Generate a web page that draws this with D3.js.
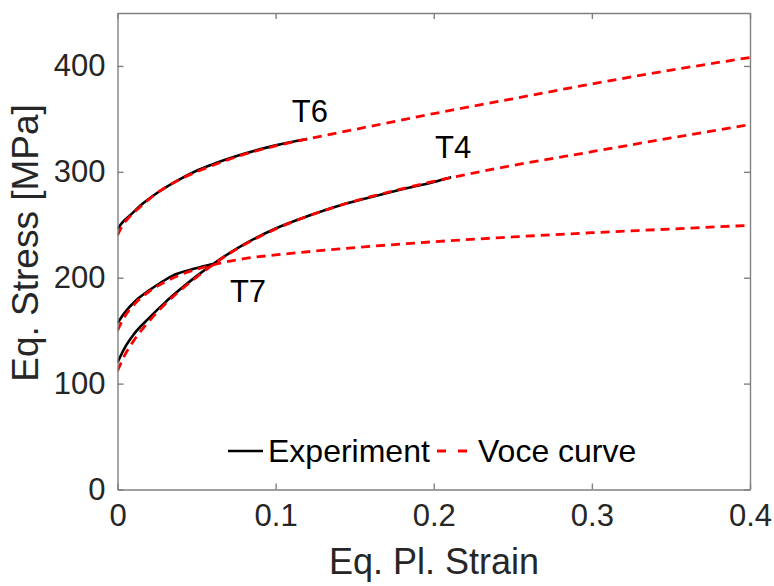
<!DOCTYPE html>
<html>
<head>
<meta charset="utf-8">
<script src="https://cdn.jsdelivr.net/npm/d3@7"></script>
<style>
    body { margin: 0; background: #fff; }
    svg text { font-family: 'Liberation Sans', Arial, Helvetica, sans-serif; }
</style>
</head>
<body>
<svg id="chart" width="774" height="586"></svg>
<script>
// values (strain [-], stress [MPa])
const t6ExpStrain = [0, 0.003, 0.008, 0.016, 0.025, 0.037, 0.05, 0.06, 0.08, 0.1, 0.12];
const t6ExpStress = [246, 252, 259, 270, 280, 291, 301, 307, 317, 325, 331];
const t6VoceStrain = [0, 0.003, 0.008, 0.016, 0.025, 0.037, 0.05, 0.06, 0.08, 0.1, 0.12, 0.15, 0.2, 0.25, 0.3, 0.35, 0.4];
const t6VoceStress = [240, 249, 258, 269, 280, 291, 300, 306, 316.5, 324.5, 331, 340, 355, 369, 383, 396, 408];

const t4ExpStrain = [0, 0.005, 0.01, 0.02, 0.03, 0.04, 0.05, 0.06, 0.08, 0.1, 0.12, 0.14, 0.16, 0.18, 0.2, 0.211];
const t4ExpStress = [120, 135, 146, 162, 176.5, 189.5, 201.5, 212.5, 231.5, 246.5, 258, 268, 276, 283.5, 290.5, 295];
const t4VoceStrain = [0, 0.005, 0.01, 0.02, 0.03, 0.04, 0.05, 0.06, 0.08, 0.1, 0.12, 0.14, 0.16, 0.18, 0.2, 0.25, 0.3, 0.35, 0.4];
const t4VoceStress = [112, 128, 140, 159, 175, 188.5, 200.5, 212, 231, 246, 258, 268, 276.5, 284, 291, 306, 319, 332, 344.5];

const t7ExpStrain = [0, 0.004, 0.012, 0.02, 0.027, 0.035, 0.045, 0.055, 0.06];
const t7ExpStress = [157, 166, 179, 188, 195, 202, 207, 211, 213];
const t7VoceStrain = [0, 0.004, 0.012, 0.02, 0.03, 0.04, 0.05, 0.06, 0.08, 0.1, 0.143, 0.2, 0.25, 0.3, 0.35, 0.4];
const t7VoceStress = [150, 162, 177, 187, 196, 203, 208, 212, 218, 221.5, 227.5, 234, 238.5, 242.5, 246, 249.5];

const labelNames = ['T6', 'T4', 'T7'];
const labelStrain = [0.1102, 0.2008, 0.0711];
const labelStress = [347, 312.7, 177];

const xTicks = [0, 0.1, 0.2, 0.3, 0.4];
const yTicks = [0, 100, 200, 300, 400];

const margin = { top: 13, right: 24, bottom: 96.5, left: 117.5 };
const width = 774 - margin.left - margin.right;
const height = 586 - margin.top - margin.bottom;
const axisColor = '#808080';
const textColor = '#262626';

const svg = d3.select('#chart');
const g = svg.append('g').attr('transform', `translate(${margin.left},${margin.top})`);

const x = d3.scaleLinear().domain([0, 0.4]).range([0, width]);
const y = d3.scaleLinear().domain([0, 450]).range([height, 0]);

const zip = (xs, ys) => xs.map((v, i) => [v, ys[i]]);
const line = d3.line().x(d => x(d[0])).y(d => y(d[1])).curve(d3.curveMonotoneX);

// clip so nothing spills over the box
g.append('clipPath').attr('id', 'clip')
    .append('rect').attr('width', width).attr('height', height);

const plot = g.append('g').attr('clip-path', 'url(#clip)');

const expSeries = [zip(t6ExpStrain, t6ExpStress), zip(t4ExpStrain, t4ExpStress), zip(t7ExpStrain, t7ExpStress)];
const voceSeries = [zip(t6VoceStrain, t6VoceStress), zip(t4VoceStrain, t4VoceStress), zip(t7VoceStrain, t7VoceStress)];

plot.selectAll('.exp')
    .data(expSeries)
    .enter()
    .append('path')
    .attr('class', 'exp')
    .attr('d', line)
    .attr('fill', 'none')
    .attr('stroke', '#000')
    .attr('stroke-width', 2.6);

plot.selectAll('.voce')
    .data(voceSeries)
    .enter()
    .append('path')
    .attr('class', 'voce')
    .attr('d', line)
    .attr('fill', 'none')
    .attr('stroke', '#ff0000')
    .attr('stroke-width', 2.8)
    .attr('stroke-dasharray', '9,6');

// axes, MATLAB style box with inward ticks
const styleAxis = (sel) => {
    sel.select('.domain').attr('stroke', axisColor).attr('stroke-width', 1.4);
    sel.selectAll('.tick line').attr('stroke', axisColor).attr('stroke-width', 1.4);
    sel.selectAll('.tick text').attr('fill', textColor).attr('font-size', 31);
};

g.append('g')
    .attr('transform', `translate(0,${height})`)
    .call(d3.axisBottom(x).tickValues(xTicks).tickSize(-6).tickPadding(14).tickSizeOuter(0).tickFormat(d3.format('~g')))
    .call(styleAxis);

g.append('g')
    .call(d3.axisTop(x).tickValues(xTicks).tickSize(-6).tickSizeOuter(0).tickFormat(''))
    .call(styleAxis);

g.append('g')
    .call(d3.axisLeft(y).tickValues(yTicks).tickSize(-6).tickPadding(12).tickSizeOuter(0))
    .call(styleAxis);

g.append('g')
    .attr('transform', `translate(${width},0)`)
    .call(d3.axisRight(y).tickValues(yTicks).tickSize(-6).tickSizeOuter(0).tickFormat(''))
    .call(styleAxis);

// curve labels
g.selectAll('.lbl')
    .data(labelNames)
    .enter()
    .append('text')
    .attr('class', 'lbl')
    .attr('x', (d, i) => x(labelStrain[i]))
    .attr('y', (d, i) => y(labelStress[i]))
    .attr('font-size', 31)
    .attr('fill', '#000')
    .text(d => d);

// axis titles
svg.append('text')
    .attr('x', 434)
    .attr('y', 574)
    .attr('text-anchor', 'middle')
    .attr('font-size', 36)
    .attr('fill', textColor)
    .text('Eq. Pl. Strain');

svg.append('text')
    .attr('transform', 'translate(38,243) rotate(-90)')
    .attr('text-anchor', 'middle')
    .attr('font-size', 37)
    .attr('fill', textColor)
    .text('Eq. Stress [MPa]');

// legend (no box)
const legend = svg.append('g').attr('transform', 'translate(228,451)');
legend.append('line')
    .attr('x1', 0).attr('x2', 35).attr('y1', 0).attr('y2', 0)
    .attr('stroke', '#000').attr('stroke-width', 2.6);
legend.append('text')
    .attr('x', 40).attr('y', 11)
    .attr('font-size', 32)
    .text('Experiment');
legend.append('line')
    .attr('x1', 209).attr('x2', 239).attr('y1', 0).attr('y2', 0)
    .attr('stroke', '#ff0000').attr('stroke-width', 2.8)
    .attr('stroke-dasharray', '9,12');
legend.append('text')
    .attr('x', 250).attr('y', 11)
    .attr('font-size', 32)
    .text('Voce curve');
</script>
</body>
</html>
